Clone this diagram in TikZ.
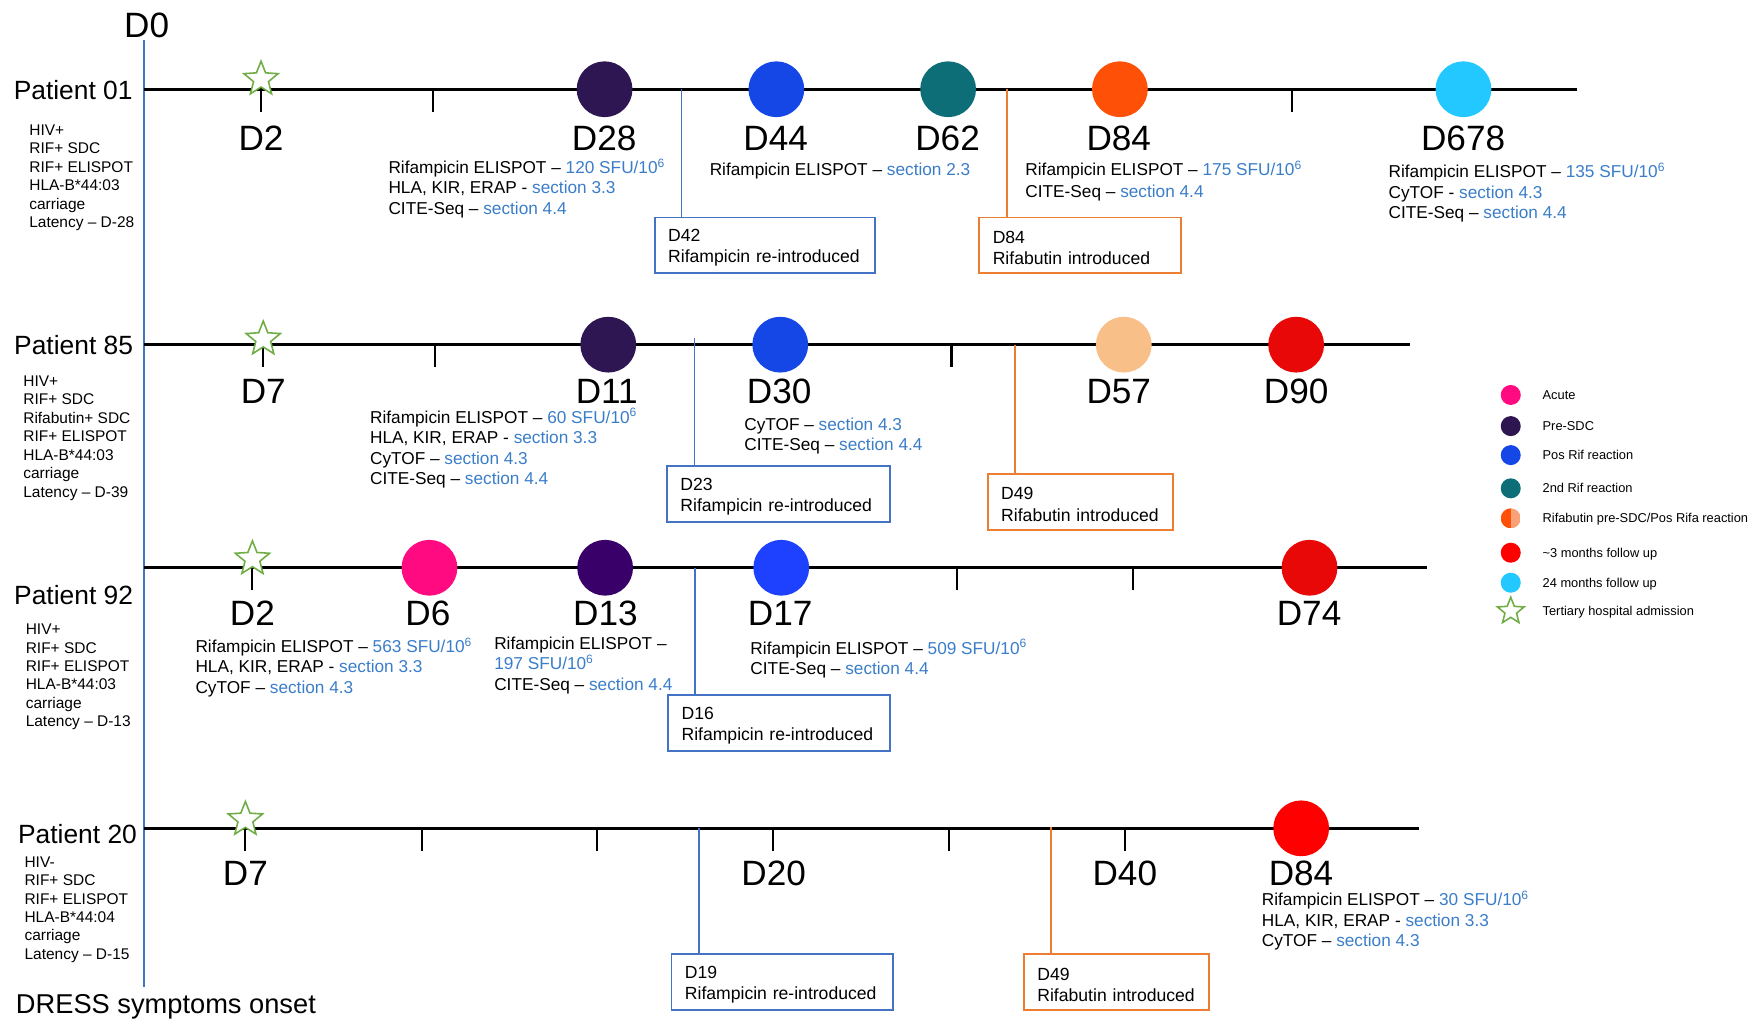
\documentclass[tikz,border=0pt]{standalone}
\usepackage{fontspec}
\setmainfont{Liberation Sans}
\usetikzlibrary{shapes.geometric}
\definecolor{rifblue}{HTML}{4472C4}
\definecolor{rborange}{HTML}{ED7D31}
\definecolor{secblue}{HTML}{3A7DC9}
\definecolor{admgreen}{HTML}{70AD47}
\definecolor{acute}{HTML}{FF0A80}
\definecolor{presdc}{HTML}{2D1652}
\definecolor{presdcb}{HTML}{380068}
\definecolor{posrif}{HTML}{1447E6}
\definecolor{posrifb}{HTML}{1E40FF}
\definecolor{secrif}{HTML}{0E6E78}
\definecolor{rbpre}{HTML}{FF5008}
\definecolor{rbpos}{HTML}{F8C088}
\definecolor{rbhalf}{HTML}{F9A27A}
\definecolor{fupred}{HTML}{E80808}
\definecolor{fupbright}{HTML}{FF0000}
\definecolor{fupcyan}{HTML}{22C8FF}
\newcommand{\bluetxt}[1]{\textcolor{secblue}{#1}}
\newcommand{\tensix}{10\smash{\textsuperscript{6}}}
\begin{document}
\begin{tikzpicture}[x=0.0223cm, y=-0.0223cm,
  axisline/.style={line width=1.5pt},
  tickline/.style={line width=1.2pt},
  evt/.style={circle, minimum size=1.115cm, inner sep=0pt},
  legdot/.style={circle, minimum size=0.40cm, inner sep=0pt},
  adm/.style={star, star points=5, star point ratio=2.3, minimum size=0.72cm, inner sep=0pt, draw=admgreen, fill=white, line width=0.9pt},
  dlab/.style={font=\fontsize{20}{23}\selectfont, inner sep=0pt},
  plab/.style={font=\fontsize{15}{18}\selectfont, inner sep=0pt},
  info/.style={font=\fontsize{8.8}{10.5}\selectfont, align=left, anchor=north west, inner sep=0pt},
  assay/.style={font=\fontsize{9.8}{11.6}\selectfont, align=left, anchor=north west, inner sep=0pt},
  legtxt/.style={font=\fontsize{7.3}{9}\selectfont, anchor=base west, inner sep=0pt},
  rifline/.style={draw=rifblue, line width=0.9pt},
  rbline/.style={draw=rborange, line width=0.9pt},
  callbox/.style={anchor=north west, line width=1.1pt, minimum height=1.115cm, inner xsep=0.268cm, inner ysep=0pt, outer sep=0pt, align=left, font=\fontsize{10}{12}\selectfont, text width=#1, execute at begin node=\rule{0pt}{9.8pt}},
  rifbox/.style={callbox=#1, draw=rifblue},
  rbbox/.style={callbox=#1, draw=rborange}]
\useasboundingbox (0,0) rectangle (1568,914);

% onset line
\coordinate (d0top) at (128.9,36);
\coordinate (d0bot) at (128.9,885);
\draw[draw=rifblue, line width=1.4pt] (d0top) -- (d0bot);
\node[dlab] (d0) at (131.5,22.4) {D0};
\node[plab, font=\fontsize{15.5}{18}\selectfont, anchor=base west] (onset) at (14,908.5) {DRESS symptoms onset};

% ---- Patient 01 ----
\coordinate (p01s) at (128.9,80);
\coordinate (p01e) at (1414,80);
\draw[axisline] (p01s) -- (p01e);
\foreach \x in {234,388,1158} \draw[tickline] (\x,80) -- (\x,100);
\coordinate (p01r) at (611,80);
\coordinate (p01b) at (903,80);
\node[rifbox=3.857cm] (p01rb) at (587,195) {D42\\Rifampicin re-introduced};
\node[rbbox=3.50cm] (p01bb) at (878,195) {D84\\Rifabutin introduced};
\draw[rifline] (p01r) -- (p01r |- p01rb.north);
\draw[rbline] (p01b) -- (p01b |- p01bb.north);
\node[adm] (p01adm) at (234,71) {};
\node[evt, fill=presdc] (p01e28) at (542,80) {};
\node[evt, fill=posrif] (p01e44) at (696,80) {};
\node[evt, fill=secrif] (p01e62) at (850,80) {};
\node[evt, fill=rbpre] (p01e84) at (1004,80) {};
\node[evt, fill=fupcyan] (p01e678) at (1312,80) {};
\node[plab] (p01) at (65.6,80.7) {Patient 01};
\node[info] (p01inf) at (26,111.5) {HIV+\\RIF+ SDC\\RIF+ ELISPOT\\HLA-B*44:03\\carriage\\Latency – D-28};
\node[dlab] (p01l2) at (234,124) {D2};
\node[dlab] (p01l28) at (541.6,124) {D28};
\node[dlab] (p01l44) at (695.4,124) {D44};
\node[dlab] (p01l62) at (849.5,124) {D62};
\node[dlab] (p01l84) at (1003,124) {D84};
\node[dlab] (p01l678) at (1311.7,124) {D678};
\node[assay] (p01a28) at (348,144) {Rifampicin ELISPOT – \bluetxt{120 SFU/\tensix}\\HLA, KIR, ERAP - \bluetxt{section 3.3}\\CITE-Seq – \bluetxt{section 4.4}};
\node[assay] (p01a44) at (636,146) {Rifampicin ELISPOT – \bluetxt{section 2.3}};
\node[assay, font=\fontsize{9.8}{12.6}\selectfont] (p01a84) at (919,146) {Rifampicin ELISPOT – \bluetxt{175 SFU/\tensix}\\CITE-Seq – \bluetxt{section 4.4}};
\node[assay] (p01a678) at (1244.6,148) {Rifampicin ELISPOT – \bluetxt{135 SFU/\tensix}\\CyTOF - \bluetxt{section 4.3}\\CITE-Seq – \bluetxt{section 4.4}};

% ---- Patient 85 ----
\coordinate (p85s) at (128.9,309);
\coordinate (p85e) at (1264,309);
\draw[axisline] (p85s) -- (p85e);
\foreach \x in {236,390,853} \draw[tickline] (\x,309) -- (\x,329);
\coordinate (p85r) at (622.7,303);
\coordinate (p85b) at (910,309);
\node[rifbox=3.924cm] (p85rb) at (598,418) {D23\\Rifampicin re-introduced};
\node[rbbox=3.166cm] (p85bb) at (885.6,425) {D49\\Rifabutin introduced};
\draw[rifline] (p85r) -- (p85r |- p85rb.north);
\draw[rbline] (p85b) -- (p85b |- p85bb.north);
\node[adm] (p85adm) at (236,304) {};
\node[evt, fill=presdc] (p85e11) at (545.3,309) {};
\node[evt, fill=posrif] (p85e30) at (699.5,309) {};
\node[evt, fill=rbpos] (p85e57) at (1007.5,309) {};
\node[evt, fill=fupred] (p85e90) at (1162,309) {};
\node[plab] (p85) at (66,309) {Patient 85};
\node[info] (p85inf) at (20.6,336.6) {HIV+\\RIF+ SDC\\Rifabutin+ SDC\\RIF+ ELISPOT\\HLA-B*44:03\\carriage\\Latency – D-39};
\node[dlab] (p85l7) at (236,351) {D7};
\node[dlab] (p85l11) at (544,351) {D11};
\node[dlab] (p85l30) at (698.5,351) {D30};
\node[dlab] (p85l57) at (1003,351) {D57};
\node[dlab] (p85l90) at (1162,351) {D90};
\node[assay] (p85a11) at (331.5,368) {Rifampicin ELISPOT – \bluetxt{60 SFU/\tensix}\\HLA, KIR, ERAP - \bluetxt{section 3.3}\\CyTOF – \bluetxt{section 4.3}\\CITE-Seq – \bluetxt{section 4.4}};
\node[assay] (p85a30) at (667,374) {CyTOF – \bluetxt{section 4.3}\\CITE-Seq – \bluetxt{section 4.4}};

% ---- Patient 92 ----
\coordinate (p92s) at (128.9,509);
\coordinate (p92e) at (1279,509);
\draw[axisline] (p92s) -- (p92e);
\foreach \x in {226.3,858,1016} \draw[tickline] (\x,509) -- (\x,529);
\coordinate (p92r) at (623,509);
\node[rifbox=3.90cm] (p92rb) at (599,623) {D16\\Rifampicin re-introduced};
\draw[rifline] (p92r) -- (p92r |- p92rb.north);
\node[adm] (p92adm) at (226.3,501) {};
\node[evt, fill=acute] (p92e6) at (385,509) {};
\node[evt, fill=presdcb] (p92e13) at (542.5,509) {};
\node[evt, fill=posrifb] (p92e17) at (700.4,509) {};
\node[evt, fill=fupred] (p92e74) at (1174,509) {};
\node[plab] (p92) at (66,533.5) {Patient 92};
\node[info] (p92inf) at (22.8,559) {HIV+\\RIF+ SDC\\RIF+ ELISPOT\\HLA-B*44:03\\carriage\\Latency – D-13};
\node[dlab] (p92l2) at (226.3,550) {D2};
\node[dlab] (p92l6) at (383.6,550) {D6};
\node[dlab] (p92l13) at (542.8,550) {D13};
\node[dlab] (p92l17) at (699.5,550) {D17};
\node[dlab] (p92l74) at (1173.6,550) {D74};
\node[assay] (p92a2) at (175,573.5) {Rifampicin ELISPOT – \bluetxt{563 SFU/\tensix}\\HLA, KIR, ERAP - \bluetxt{section 3.3}\\CyTOF – \bluetxt{section 4.3}};
\node[assay] (p92a13) at (442.8,570.5) {Rifampicin ELISPOT –\\\bluetxt{197 SFU/\tensix}\\CITE-Seq – \bluetxt{section 4.4}};
\node[assay] (p92a17) at (672.5,575) {Rifampicin ELISPOT – \bluetxt{509 SFU/\tensix}\\CITE-Seq – \bluetxt{section 4.4}};

% ---- Patient 20 ----
\coordinate (p20s) at (128.9,742.6);
\coordinate (p20e) at (1272,742.6);
\draw[axisline] (p20s) -- (p20e);
\foreach \x in {220,378,535,693,851,1008.5} \draw[tickline] (\x,742.6) -- (\x,762.6);
\coordinate (p20r) at (626.5,742.6);
\coordinate (p20b) at (942,741);
\node[rifbox=3.90cm] (p20rb) at (602,855.5) {D19\\Rifampicin re-introduced};
\node[rbbox=3.166cm] (p20bb) at (918,855.5) {D49\\Rifabutin introduced};
\draw[rifline] (p20r) -- (p20r |- p20rb.north);
\draw[rbline] (p20b) -- (p20b |- p20bb.north);
\node[adm] (p20adm) at (220,734.7) {};
\node[evt, fill=fupbright] (p20e84) at (1166.5,742.6) {};
\node[plab] (p20) at (69.5,747.7) {Patient 20};
\node[info] (p20inf) at (21.7,767.5) {HIV-\\RIF+ SDC\\RIF+ ELISPOT\\HLA-B*44:04\\carriage\\Latency – D-15};
\node[dlab] (p20l7) at (220,783) {D7};
\node[dlab] (p20l20) at (693.6,783) {D20};
\node[dlab] (p20l40) at (1008.4,783) {D40};
\node[dlab] (p20l84) at (1166.4,783) {D84};
\node[assay] (p20a84) at (1131,800.5) {Rifampicin ELISPOT – \bluetxt{30 SFU/\tensix}\\HLA, KIR, ERAP - \bluetxt{section 3.3}\\CyTOF – \bluetxt{section 4.3}};

% ---- legend ----
\node[legdot, fill=acute] (lg1) at (1354.4,354.1) {};
\node[legdot, fill=presdc] (lg2) at (1354.4,382) {};
\node[legdot, fill=posrif] (lg3) at (1354.4,408) {};
\node[legdot, fill=secrif] (lg4) at (1354.4,437.8) {};
\node[legdot, path picture={
  \fill[rbpre] (path picture bounding box.south west) rectangle (path picture bounding box.north);
  \fill[rbhalf] (path picture bounding box.south) rectangle (path picture bounding box.north east);}] (lg5) at (1354.4,464.7) {};
\node[legdot, fill=fupbright] (lg6) at (1354.4,495.5) {};
\node[legdot, fill=fupcyan] (lg7) at (1354.4,522.4) {};
\node[adm, minimum size=0.56cm] (lg8) at (1354.4,548) {};
\node[legtxt] (lt1) at (1382.7,358.2) {Acute};
\node[legtxt] (lt2) at (1382.7,386.1) {Pre-SDC};
\node[legtxt] (lt3) at (1382.7,412.1) {Pos Rif reaction};
\node[legtxt] (lt4) at (1382.7,441.9) {2nd Rif reaction};
\node[legtxt] (lt5) at (1382.7,468.8) {Rifabutin pre-SDC/Pos Rifa reaction};
\node[legtxt] (lt6) at (1382.7,499.6) {\textasciitilde3 months follow up};
\node[legtxt] (lt7) at (1382.7,526.5) {24 months follow up};
\node[legtxt] (lt8) at (1382.7,552.1) {Tertiary hospital admission};
\end{tikzpicture}
\end{document}
